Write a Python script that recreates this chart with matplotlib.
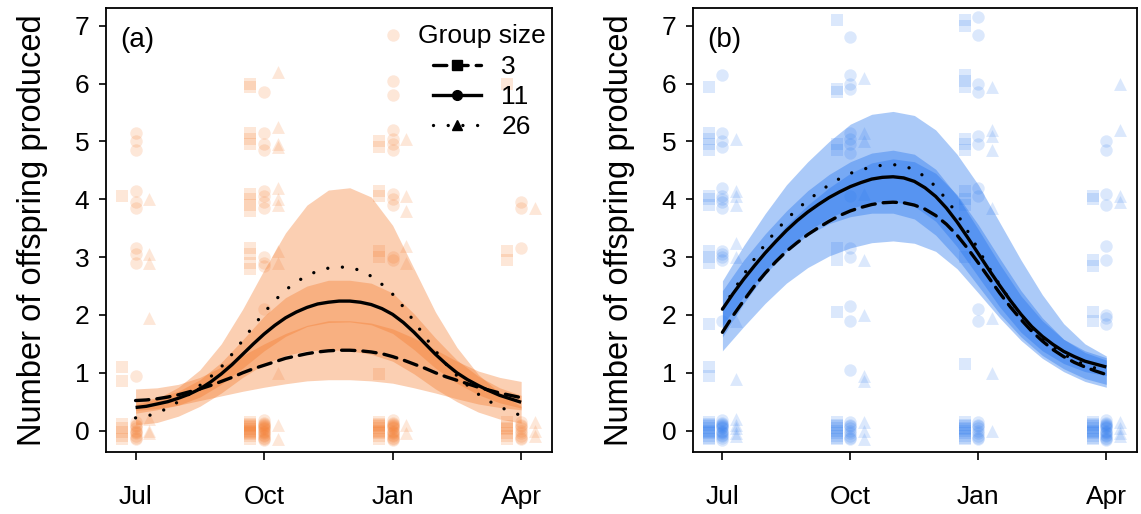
import matplotlib
matplotlib.use("Agg")
import matplotlib.pyplot as plt
from matplotlib.lines import Line2D

plt.rcParams['font.family'] = ['Liberation Sans', 'DejaVu Sans']

# months since July: Jul, Oct, Jan, Apr
month_pos = [0, 3, 6, 9]
month_labels = ['Jul', 'Oct', 'Jan', 'Apr']
group_sizes = ['3', '11', '26']
group_offset = [-0.32, 0.0, 0.32]
group_marker = ['s', 'o', '^']
group_msize = [66, 80, 86]

# observed offspring counts (one list per survey month: Jul, Oct, Jan, Apr)
a_pts_3 = [
    [4.05, 1.1, 0.85, 0.12, 0.05, -0.02, -0.1, -0.15],
    [6.0, 5.95, 5.15, 5.05, 4.95, 4.1, 4.0, 3.9, 3.8, 3.15, 3.05, 2.9, 2.8,
     0.15, 0.1, 0.06, 0.02, -0.02, -0.06, -0.1, -0.14, 0.12, -0.04, 0.0, 0.08],
    [5.0, 4.9, 4.15, 4.05, 3.1, 3.0, 0.98, 0.15, 0.1, 0.05, 0.0, -0.05, -0.1,
     -0.15, 0.08, -0.03, 0.12],
    [6.0, 3.1, 2.95, 0.15, 0.08, 0.02, -0.04, -0.1, -0.15, 0.05],
]
a_pts_11 = [
    [5.15, 5.0, 4.85, 4.15, 3.95, 3.85, 3.15, 3.05, 2.9, 0.95, 0.15, 0.1, 0.05,
     0.0, -0.05, -0.1, -0.15, 0.08, -0.02, -0.12],
    [5.85, 5.15, 4.95, 4.85, 4.15, 4.05, 3.95, 3.85, 3.0, 2.9, 2.85, 2.1,
     0.18, 0.12, 0.08, 0.04, 0.0, -0.04, -0.08, -0.12, -0.16, 0.1, -0.02, 0.06,
     -0.1, 0.14, -0.14, 0.02],
    [6.85, 6.05, 5.8, 5.2, 5.05, 4.95, 4.85, 4.1, 4.0, 3.9, 3.0, 2.95,
     0.18, 0.12, 0.08, 0.04, 0.0, -0.04, -0.08, -0.12, -0.16, 0.1, -0.02, 0.06,
     -0.1, 0.14, -0.14],
    [3.95, 3.85, 3.15, 0.15, 0.1, 0.05, 0.0, -0.05, -0.1, -0.15, 0.08, -0.12],
]
a_pts_26 = [
    [4.0, 3.05, 2.9, 1.95, 0.2, 0.0, -0.05],
    [6.2, 5.25, 4.95, 4.9, 4.2, 4.0, 3.9, 3.1, 2.9, 1.0, 0.1, -0.15],
    [5.05, 4.05, 3.8, 3.2, 2.9, 0.1, -0.05],
    [3.85, 0.15, 0.0, -0.1],
]
b_pts_3 = [
    [5.95, 5.15, 5.05, 4.95, 4.85, 4.05, 4.0, 3.9, 3.1, 3.0, 2.9, 1.85, 1.1,
     0.95, 0.15, 0.1, 0.05, 0.0, -0.05, -0.1, -0.15, 0.08, -0.02, -0.12, 0.12],
    [7.1, 5.9, 5.85, 4.95, 4.85, 3.15, 2.95, 2.05, 0.15, 0.1, 0.05, 0.0,
     -0.05, -0.1, -0.15, 0.08, -0.12],
    [7.1, 7.0, 6.15, 6.05, 5.95, 5.05, 4.95, 4.85, 4.15, 4.0, 3.9, 3.0, 1.15,
     0.15, 0.1, 0.05, 0.0, -0.05, -0.1, -0.15, 0.08, -0.12, 0.02],
    [4.05, 4.0, 2.95, 2.85, 2.05, 1.9, 0.15, 0.1, 0.05, 0.0, -0.05, -0.1,
     -0.15, 0.08, -0.12, 0.12, -0.02],
]
b_pts_11 = [
    [6.15, 5.15, 5.0, 4.9, 4.2, 4.05, 4.0, 3.95, 3.85, 3.1, 3.05, 3.0, 2.95,
     1.9, 0.18, 0.12, 0.08, 0.04, 0.0, -0.04, -0.08, -0.12, -0.16, 0.1, -0.02,
     0.06, -0.1, 0.14],
    [6.8, 6.15, 6.0, 5.9, 5.15, 5.05, 4.95, 4.8, 4.05, 3.15, 3.0, 2.15, 1.9,
     1.05, 0.15, 0.1, 0.05, 0.0, -0.05, -0.1, -0.15, 0.08, -0.12],
    [7.15, 6.85, 6.0, 5.85, 5.1, 4.95, 4.2, 4.05, 2.1, 1.9, 0.15, 0.1, 0.05,
     0.0, -0.05, -0.1, -0.15, 0.08, -0.12],
    [5.0, 4.85, 4.1, 3.9, 3.2, 2.95, 2.0, 1.95, 1.85, 0.18, 0.12, 0.08, 0.04,
     0.0, -0.04, -0.08, -0.12, -0.16, 0.1, -0.02, 0.06, -0.1, 0.14, -0.14],
]
b_pts_26 = [
    [5.05, 4.15, 4.05, 3.9, 3.25, 3.0, 1.9, 0.9, 0.2, 0.1, 0.05, -0.05, -0.1],
    [6.1, 5.15, 5.0, 4.1, 2.95, 2.0, 0.95, 0.85, 0.15, 0.0, -0.15],
    [5.95, 5.2, 5.1, 4.85, 3.85, 1.95, 1.0, 0.0],
    [6.0, 5.2, 4.05, 3.95, 0.15, 0.05, -0.05, -0.1],
]

# fitted curves, read every quarter month from Jul (0) to Apr (9)
t_fit = [0, 0.25, 0.5, 0.75, 1, 1.25, 1.5, 1.75, 2, 2.25, 2.5, 2.75, 3,
         3.25, 3.5, 3.75, 4, 4.25, 4.5, 4.75, 5, 5.25, 5.5, 5.75, 6, 6.25,
         6.5, 6.75, 7, 7.25, 7.5, 7.75, 8, 8.25, 8.5, 8.75, 9]

a_fit_3 = [0.52, 0.53, 0.55, 0.58, 0.62, 0.67, 0.72, 0.78, 0.85, 0.92, 1.0,
           1.07, 1.13, 1.19, 1.25, 1.29, 1.33, 1.36, 1.38, 1.39, 1.39, 1.38,
           1.36, 1.33, 1.28, 1.22, 1.15, 1.08, 1.0, 0.93, 0.87, 0.81, 0.75,
           0.7, 0.65, 0.61, 0.57]
a_fit_11 = [0.40, 0.42, 0.46, 0.5, 0.56, 0.63, 0.72, 0.84, 0.98, 1.14, 1.32,
            1.5, 1.67, 1.82, 1.95, 2.05, 2.13, 2.19, 2.22, 2.24, 2.24, 2.22,
            2.18, 2.11, 2.01, 1.87, 1.7, 1.51, 1.32, 1.15, 1.0, 0.88, 0.78,
            0.69, 0.61, 0.55, 0.49]
a_fit_26 = [0.22, 0.25, 0.3, 0.39, 0.5, 0.63, 0.78, 0.93, 1.1, 1.32, 1.56,
            1.81, 2.04, 2.25, 2.43, 2.57, 2.68, 2.76, 2.81, 2.83, 2.82, 2.77,
            2.67, 2.53, 2.36, 2.14, 1.89, 1.63, 1.38, 1.15, 0.95, 0.78, 0.63,
            0.51, 0.41, 0.33, 0.26]
b_fit_3 = [1.7, 1.99, 2.25, 2.5, 2.72, 2.92, 3.1, 3.25, 3.39, 3.51, 3.62,
           3.72, 3.8, 3.86, 3.91, 3.94, 3.95, 3.94, 3.9, 3.83, 3.72, 3.57,
           3.38, 3.15, 2.9, 2.64, 2.38, 2.14, 1.92, 1.72, 1.55, 1.4, 1.28,
           1.18, 1.1, 1.03, 0.97]
b_fit_11 = [2.1, 2.37, 2.62, 2.85, 3.07, 3.27, 3.46, 3.63, 3.78, 3.91, 4.03,
            4.13, 4.22, 4.29, 4.35, 4.38, 4.39, 4.37, 4.31, 4.2, 4.05, 3.85,
            3.61, 3.34, 3.06, 2.78, 2.51, 2.25, 2.01, 1.8, 1.63, 1.49, 1.37,
            1.28, 1.2, 1.15, 1.1]
b_fit_26 = [2.1, 2.41, 2.7, 2.97, 3.22, 3.45, 3.65, 3.83, 3.98, 4.12, 4.25,
            4.36, 4.45, 4.51, 4.56, 4.59, 4.6, 4.58, 4.51, 4.39, 4.22, 4.0,
            3.75, 3.45, 3.13, 2.82, 2.52, 2.25, 2.0, 1.78, 1.6, 1.45, 1.32,
            1.22, 1.14, 1.08, 1.03]

# confidence bands, read every half month
t_band = [0, 0.5, 1, 1.5, 2, 2.5, 3, 3.5, 4, 4.5, 5, 5.5, 6, 6.5, 7, 7.5, 8,
          8.5, 9]

a_lo_3 = [0.35, 0.38, 0.44, 0.52, 0.6, 0.68, 0.75, 0.81, 0.86, 0.88, 0.88,
          0.86, 0.82, 0.74, 0.65, 0.55, 0.46, 0.4, 0.36]
a_hi_3 = [0.72, 0.74, 0.8, 0.92, 1.1, 1.3, 1.5, 1.68, 1.82, 1.9, 1.9, 1.86,
          1.76, 1.6, 1.4, 1.2, 1.03, 0.92, 0.85]
a_lo_11 = [0.3, 0.36, 0.44, 0.58, 0.8, 1.08, 1.38, 1.63, 1.8, 1.87, 1.88,
           1.83, 1.68, 1.4, 1.08, 0.82, 0.62, 0.48, 0.39]
a_hi_11 = [0.5, 0.57, 0.68, 0.88, 1.18, 1.57, 1.98, 2.3, 2.5, 2.6, 2.6, 2.55,
           2.38, 2.02, 1.6, 1.22, 0.94, 0.74, 0.61]
a_lo_26 = [0.1, 0.14, 0.25, 0.42, 0.65, 0.92, 1.15, 1.3, 1.38, 1.4, 1.38,
           1.32, 1.2, 0.98, 0.72, 0.5, 0.32, 0.2, 0.13]
a_hi_26 = [0.45, 0.55, 0.75, 1.05, 1.5, 2.1, 2.78, 3.42, 3.9, 4.16, 4.2,
           4.04, 3.55, 2.8, 2.05, 1.44, 0.97, 0.65, 0.42]

b_lo_3 = [1.38, 1.8, 2.2, 2.55, 2.82, 3.02, 3.16, 3.25, 3.28, 3.24, 3.1, 2.8,
          2.38, 1.95, 1.56, 1.25, 1.02, 0.85, 0.75]
b_hi_3 = [2.1, 2.65, 3.12, 3.55, 3.9, 4.2, 4.45, 4.63, 4.7, 4.65, 4.45, 4.08,
          3.56, 2.98, 2.42, 1.95, 1.58, 1.35, 1.22]
b_lo_11 = [1.82, 2.32, 2.76, 3.14, 3.45, 3.68, 3.84, 3.95, 3.97, 3.88, 3.62,
           3.18, 2.66, 2.14, 1.7, 1.38, 1.16, 1.02, 0.95]
b_hi_11 = [2.42, 2.95, 3.4, 3.8, 4.15, 4.43, 4.65, 4.8, 4.85, 4.78, 4.52,
           4.06, 3.48, 2.88, 2.33, 1.9, 1.58, 1.38, 1.26]
b_lo_26 = [1.62, 2.2, 2.7, 3.1, 3.38, 3.58, 3.7, 3.76, 3.76, 3.66, 3.38, 2.98,
           2.5, 2.02, 1.62, 1.3, 1.07, 0.9, 0.8]
b_hi_26 = [2.59, 3.2, 3.75, 4.25, 4.65, 5.0, 5.3, 5.47, 5.52, 5.45, 5.2, 4.78,
           4.25, 3.6, 2.95, 2.35, 1.85, 1.5, 1.29]

line_styles = [(0, (4, 2.4)), '-', (0, (0.01, 4.4))]


def draw_panel(ax, pts, fits, los, his, color, pt_alpha, band_alpha, tag):
    for g in range(3):
        for m, ys in zip(month_pos, pts[g]):
            ax.scatter([m + group_offset[g]] * len(ys), ys, s=group_msize[g],
                       marker=group_marker[g], color=color, alpha=pt_alpha,
                       linewidths=0, zorder=1)
    for g in range(3):
        ax.fill_between(t_band, los[g], his[g], color=color, alpha=band_alpha,
                        linewidth=0, zorder=2)
    for g in range(3):
        ax.plot(t_fit, fits[g], color='black', lw=2.4, ls=line_styles[g],
                dash_capstyle='round', solid_capstyle='butt', zorder=3)

    ax.set_xlim(-0.69, 9.72)
    ax.set_ylim(-0.37, 7.3)
    ax.set_xticks(month_pos)
    ax.set_xticklabels(month_labels)
    ax.set_yticks(range(8))
    ax.tick_params(axis='x', length=6, width=1.2, pad=18, labelsize=19)
    ax.tick_params(axis='y', length=5, width=1.2, pad=7, labelsize=19)
    for sp in ax.spines.values():
        sp.set_linewidth(1.3)
    ax.set_ylabel('Number of offspring produced', fontsize=23.5, labelpad=19)
    ax.text(0.031, 0.929, tag, transform=ax.transAxes, fontsize=20,
            ha='left', va='center')


fig = plt.figure(figsize=(11.41, 5.14), dpi=100)
ax_a = fig.add_axes([106 / 1141, 1 - 452 / 514, 446 / 1141, 443.5 / 514])
ax_b = fig.add_axes([693 / 1141, 1 - 452 / 514, 444 / 1141, 443.5 / 514])

draw_panel(ax_a, [a_pts_3, a_pts_11, a_pts_26],
           [a_fit_3, a_fit_11, a_fit_26],
           [a_lo_3, a_lo_11, a_lo_26], [a_hi_3, a_hi_11, a_hi_26],
           '#F47A2C', 0.18, 0.36, '(a)')
draw_panel(ax_b, [b_pts_3, b_pts_11, b_pts_26],
           [b_fit_3, b_fit_11, b_fit_26],
           [b_lo_3, b_lo_11, b_lo_26], [b_hi_3, b_hi_11, b_hi_26],
           '#2474EE', 0.16, 0.38, '(b)')

handles = [Line2D([0], [0], color='black', lw=2.4, ls=line_styles[g],
                  dash_capstyle='round', marker=group_marker[g], ms=7)
           for g in range(3)]
ax_a.legend(handles, group_sizes, title='Group size', loc='upper center',
            bbox_to_anchor=(0.842, 0.964), frameon=False, fontsize=19,
            title_fontsize=19, numpoints=1, handlelength=1.85,
            handletextpad=0.75, labelspacing=0.24, borderpad=0,
            borderaxespad=0)

fig.savefig('out.png', dpi=100)
